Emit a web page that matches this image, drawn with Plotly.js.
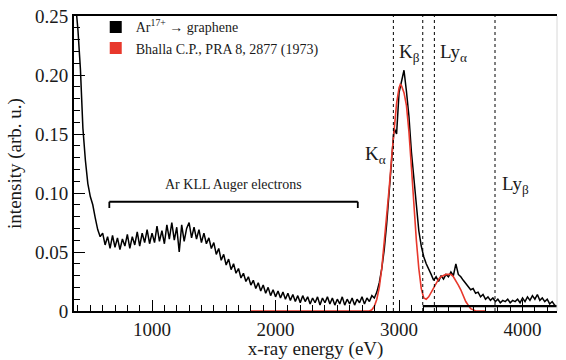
<!DOCTYPE html>
<html><head><meta charset="utf-8">
<script src="https://cdn.plot.ly/plotly-3.0.1.min.js"></script>
<style>html,body{margin:0;padding:0;background:#fff}#chart{width:566px;height:360px}</style>
</head><body><div id="chart"></div>
<script>
// measured spectrum: energy bins start at 380 eV, 20 eV wide
const energyStart = 380, binWidth = 20;
const measured = [
0.262,0.238,0.205,0.155,0.128,0.108,0.097,0.090,0.079,0.069,0.063,
0.066,0.056,0.063,0.053,0.064,0.054,0.062,0.052,0.061,0.055,
0.065,0.053,0.063,0.056,0.067,0.055,0.066,0.058,0.069,0.057,
0.066,0.058,0.072,0.059,0.068,0.057,0.073,0.061,0.075,0.060,
0.071,0.050,0.073,0.059,0.070,0.075,0.062,0.071,0.061,0.069,
0.058,0.066,0.057,0.062,0.053,0.058,0.048,0.053,0.043,0.048,
0.039,0.044,0.035,0.040,0.032,0.036,0.028,0.032,0.025,0.029,
0.022,0.026,0.019,0.024,0.017,0.022,0.015,0.020,0.013,0.018,
0.012,0.017,0.011,0.016,0.010,0.015,0.009,0.014,0.008,0.013,
0.007,0.013,0.008,0.012,0.006,0.011,0.007,0.012,0.005,0.011,
0.007,0.012,0.006,0.011,0.005,0.010,0.006,0.012,0.005,0.010,
0.006,0.011,0.005,0.010,0.007,0.012,0.006,0.011,0.008,0.013,
0.011,0.016,0.024,0.036,0.052,0.074,0.098,0.128,0.155,0.150,
0.185,0.196,0.204,0.186,0.165,0.135,0.112,0.090,0.068,0.055,
0.046,0.040,0.036,0.031,0.026,0.029,0.025,0.030,0.027,0.031,
0.029,0.033,0.030,0.040,0.031,0.029,0.026,0.023,0.021,0.018,
0.019,0.015,0.016,0.012,0.014,0.010,0.012,0.009,0.011,0.008,
0.010,0.007,0.009,0.008,0.010,0.007,0.009,0.008,0.010,0.007,
0.011,0.008,0.012,0.009,0.013,0.010,0.014,0.009,0.011,0.008,
0.010,0.006,0.008,0.005,0.004
];
const measuredEnergy = measured.map((_, i) => energyStart + i * binWidth);

// Bhalla C.P. theory curve
const theoryEnergy = [1800,2700,2760,2780,2800,2820,2840,2860,2880,2900,2920,2940,2960,2980,3000,3010,3020,3040,3060,3080,3100,3120,3140,3160,3180,3200,3220,3240,3260,3280,3300,3320,3340,3360,3380,3400,3420,3440,3460,3480,3500,3520,3540,3560,3580,3600,3620,3700];
const theory = [0,0,0.000,0.001,0.004,0.010,0.020,0.036,0.057,0.080,0.104,0.130,0.155,0.176,0.189,0.192,0.191,0.185,0.174,0.152,0.122,0.090,0.060,0.036,0.019,0.011,0.010,0.012,0.016,0.020,0.024,0.027,0.029,0.030,0.031,0.031,0.031,0.029,0.026,0.022,0.018,0.013,0.008,0.005,0.002,0.001,0.000,0];

// line markers (eV)
const lineNames = ['K<sub>α</sub>','K<sub>β</sub>','Ly<sub>α</sub>','Ly<sub>β</sub>'];
const linePositions = [2954, 3192, 3286, 3777];
const labelPos = [[2806,0.132],[3081,0.2186],[3437,0.2186],[3939,0.1068]];
const augerRange = [654, 2666];
const augerLabel = 'Ar KLL Auger electrons';
const legendNames = ['Ar<sup>17+</sup> → graphene', 'Bhalla C.P., PRA 8, 2877 (1973)'];

const F = 'Liberation Serif';
const RED = '#e8382c';
const TXT = '#1a1a1a';

const traces = [
  {x: measuredEnergy, y: measured, mode:'lines', line:{color:'black', width:1.5}, showlegend:false, hoverinfo:'skip'},
  {x: theoryEnergy, y: theory, mode:'lines', line:{color:RED, width:1.6}, showlegend:false, hoverinfo:'skip'},
  {x:[null], y:[null], mode:'markers', name: legendNames[0], marker:{symbol:'square', size:12, color:'black'}},
  {x:[null], y:[null], mode:'markers', name: legendNames[1], marker:{symbol:'square', size:12, color:RED}}
];

const shapes = [];
linePositions.forEach(p => shapes.push({type:'line', xref:'x', yref:'y', x0:p, x1:p, y0:0, y1:0.25, line:{color:'black', width:1, dash:'dot'}}));
shapes.push({type:'line', xref:'x', yref:'y', x0:augerRange[0], x1:augerRange[1], y0:0.0926, y1:0.0926, line:{color:'black', width:1.8}});
shapes.push({type:'line', xref:'x', yref:'y', x0:augerRange[0], x1:augerRange[0], y0:0.0926, y1:0.0873, line:{color:'black', width:1.8}});
shapes.push({type:'line', xref:'x', yref:'y', x0:augerRange[1], x1:augerRange[1], y0:0.0926, y1:0.0873, line:{color:'black', width:1.8}});
shapes.push({type:'line', xref:'x', yref:'y', x0:linePositions[1], x1:4285, y0:0.0042, y1:0.0042, line:{color:'black', width:2.2}});
shapes.push({type:'line', xref:'paper', yref:'paper', x0:1, x1:1, y0:0, y1:1, line:{color:'#d8d8d8', width:1}});

const annotations = lineNames.map((t,i) => ({x:labelPos[i][0], y:labelPos[i][1], text:t, showarrow:false, font:{family:F, size:19, color:TXT}}));
annotations.push({x:1656, y:0.1068, text:augerLabel, showarrow:false, font:{family:F, size:14, color:TXT}});

const layout = {
  width:566, height:360,
  margin:{l:74, r:9, t:16, b:49},
  paper_bgcolor:'white', plot_bgcolor:'white',
  font:{family:F, color:TXT},
  showlegend:true,
  legend:{x:0.045, y:1.016, xanchor:'left', yanchor:'top', bgcolor:'rgba(0,0,0,0)', font:{family:F, size:14, color:TXT}, tracegroupgap:0, itemwidth:30},
  xaxis:{range:[368,4279], showgrid:false, zeroline:false, showline:true, linecolor:'black', linewidth:2, mirror:true,
    ticks:'inside', ticklen:11, tickwidth:1.3, tickcolor:'black', tick0:0, dtick:1000,
    minor:{ticks:'inside', ticklen:6, tickwidth:1.2, tickcolor:'black', dtick:100, tick0:0},
    tickfont:{family:F, size:19, color:TXT},
    title:{text:'x-ray energy (eV)', font:{family:F, size:19, color:TXT}, standoff:6}},
  yaxis:{range:[0,0.25], showgrid:false, zeroline:false, showline:true, linecolor:'black', linewidth:2,
    ticks:'inside', ticklen:11, tickwidth:1.3, tickcolor:'black', tick0:0, dtick:0.05, tickformat:'.2f',
    labelalias:{'0.00':'0'},
    minor:{ticks:'inside', ticklen:6, tickwidth:1.2, tickcolor:'black', dtick:0.01, tick0:0},
    tickfont:{family:F, size:19, color:TXT},
    title:{text:'intensity (arb. u.)', font:{family:F, size:19, color:TXT}, standoff:8}},
  shapes, annotations
};
Plotly.newPlot('chart', traces, layout, {displayModeBar:false});
</script></body></html>
